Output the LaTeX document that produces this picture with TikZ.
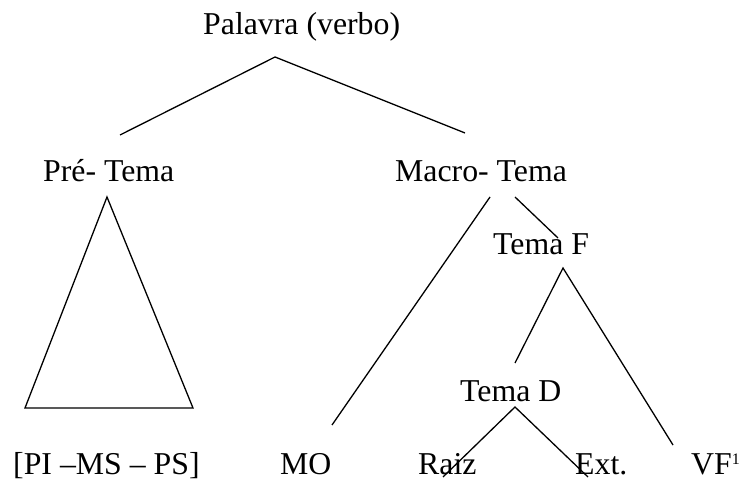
\documentclass[tikz,border=0pt]{standalone}
\usepackage{fontspec}
\setmainfont{Liberation Serif}
\newcommand{\smallsup}[1]{\raisebox{10pt}{\fontsize{16}{16}\selectfont #1}}
\begin{document}
\begin{tikzpicture}[x=1pt,y=-1pt,
  lbl/.style={anchor=base west,inner sep=0pt,font=\fontsize{31.8}{38}\selectfont},
  branch/.style={line width=1.3pt,line join=miter}]
\useasboundingbox (0,0) rectangle (740,481);

% labels
\node[lbl] (pal)   at (203,35)  {Palavra (verbo)};
\node[lbl] (pre)   at (43,182)  {Pré- Tema};
\node[lbl] (macro) at (395,182) {Macro- Tema};
\node[lbl] (temaf) at (493,255) {Tema F};
\node[lbl] (temad) at (460,402) {Tema D};
\node[lbl] (pims)  at (13,475)  {[PI –MS – PS]};
\node[lbl] (mo)    at (280,475) {MO};
\node[lbl] (raiz)  at (418,475) {Raiz};
\node[lbl] (ext)   at (575,475) {Ext.};
\node[lbl] (vf)    at (691,475) {VF\smallsup{1}};

% branch end points
\coordinate (palB)   at (275,57);
\coordinate (preT)   at (120,135);
\coordinate (macT)   at (465,133);
\coordinate (triA)   at (107,197);
\coordinate (triL)   at (25,408);
\coordinate (triR)   at (193,408);
\coordinate (macL)   at (490,197);
\coordinate (moT)    at (332,425);
\coordinate (macR)   at (515,197);
\coordinate (tfT)    at (558,238);
\coordinate (tfB)    at (563,268);
\coordinate (tdT)    at (515,363);
\coordinate (vfT)    at (673,445);
\coordinate (tdB)    at (515,407);
\coordinate (raizT)  at (443,477);
\coordinate (extT)   at (588,477);

% tree
\draw[branch] (preT) -- (palB) -- (macT);
\draw[branch] (triA) -- (triL) -- (triR) -- cycle;
\draw[branch] (macL) -- (moT);
\draw[branch] (macR) -- (tfT);
\draw[branch] (tdT) -- (tfB) -- (vfT);
\draw[branch] (raizT) -- (tdB) -- (extT);
\end{tikzpicture}
\end{document}
